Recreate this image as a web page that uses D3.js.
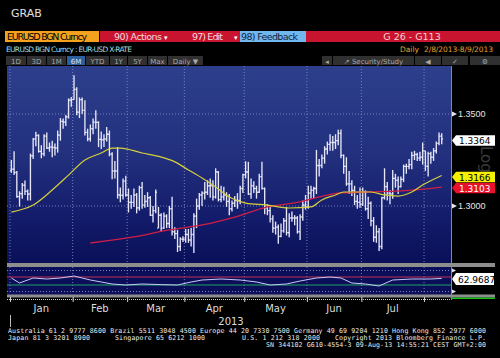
<!DOCTYPE html>
<meta charset="utf-8">
<script src="https://cdn.jsdelivr.net/npm/d3@7"></script>
<style>
	body{margin:0;background:#000;}
	svg{display:block;font-family:"DejaVu Sans",sans-serif;}
</style>
<div id="chart"></div>
<script>
// EUR-USD daily bars, trading days 1 Jan - 9 Aug 2013
var opens = [1.3193,1.3200,1.3182,1.3051,1.3067,1.3113,1.3080,1.3065,1.3273,1.3364,1.3383,1.3297,1.3284,1.3380,1.3315,1.3320,1.3318,1.3315,1.3385,1.3460,1.3455,1.3484,1.3575,
	1.3579,1.3634,1.3510,1.3578,1.3520,1.3400,1.3365,1.3420,1.3456,1.3455,1.3362,1.3360,1.3364,1.3390,1.3282,1.3190,1.3190,1.3060,1.3058,1.3135,
	1.3060,1.3020,1.3020,1.3060,1.2990,1.3100,1.3005,1.3025,1.3045,1.2950,1.2975,1.2880,1.2950,1.2880,1.2945,1.2905,1.2985,1.2860,1.2850,1.2780,1.2820,
	1.2820,1.2845,1.2815,1.2845,1.2945,1.3000,1.3060,1.3070,1.3075,1.3110,1.3110,1.3050,1.3185,1.3035,1.3050,1.3060,1.3025,1.2985,1.3015,1.3030,1.3030,1.3095,
	1.3170,1.3185,1.3065,1.3110,1.3095,1.3075,1.3160,1.3095,1.2990,1.2975,1.2930,1.2880,1.2885,1.2835,1.2865,1.2920,1.2855,1.2935,1.2935,1.2935,1.2860,1.2940,1.3005,
	1.2995,1.3070,1.3085,1.3095,1.3220,1.3220,1.3260,1.3310,1.3335,1.3345,1.3345,1.3355,1.3395,1.3275,1.3215,1.3120,1.3120,1.3085,1.3025,1.3020,
	1.3010,1.3075,1.2985,1.3015,1.2920,1.2830,1.2860,1.2780,1.3045,1.3105,1.3070,1.3065,1.3150,1.3140,1.3105,1.3145,1.3215,1.3215,1.3225,1.3275,1.3280,1.3260,1.3265,
	1.3300,1.3215,1.3285,1.3265,1.3300,1.3340,1.3380]
var highs = [1.3250,1.3297,1.3190,1.3080,1.3125,1.3138,1.3090,1.3285,1.3370,1.3403,1.3390,1.3330,1.3390,1.3400,1.3345,1.3355,1.3340,1.3410,1.3478,1.3475,1.3495,1.3585,1.3593,
	1.3711,1.3645,1.3590,1.3590,1.3575,1.3420,1.3443,1.3475,1.3520,1.3460,1.3405,1.3390,1.3430,1.3410,1.3292,1.3245,1.3320,1.3100,1.3150,1.3165,
	1.3095,1.3060,1.3095,1.3070,1.3110,1.3130,1.3060,1.3075,1.3055,1.3000,1.3090,1.2995,1.2960,1.2965,1.2955,1.3000,1.3050,1.2885,1.2870,1.2830,1.2835,
	1.2875,1.2875,1.2880,1.2960,1.3040,1.3070,1.3080,1.3130,1.3140,1.3150,1.3140,1.3205,1.3190,1.3110,1.3105,1.3075,1.3065,1.3030,1.3055,1.3070,1.3110,1.3175,
	1.3243,1.3240,1.3150,1.3135,1.3110,1.3175,1.3240,1.3100,1.3010,1.3000,1.2950,1.2915,1.2900,1.2905,1.2935,1.2995,1.2960,1.2970,1.2950,1.2945,1.2955,1.3030,1.3060,
	1.3110,1.3110,1.3105,1.3305,1.3255,1.3280,1.3325,1.3350,1.3390,1.3380,1.3390,1.3415,1.3416,1.3280,1.3265,1.3190,1.3140,1.3110,1.3060,1.3100,
	1.3100,1.3085,1.3050,1.3025,1.2940,1.2895,1.2880,1.3050,1.3205,1.3130,1.3085,1.3195,1.3175,1.3160,1.3160,1.3225,1.3230,1.3255,1.3295,1.3300,1.3290,1.3295,1.3345,
	1.3300,1.3295,1.3295,1.3315,1.3350,1.3400,1.3395]
var lows = [1.3180,1.3168,1.3045,1.2997,1.3040,1.3060,1.3030,1.3030,1.3255,1.3325,1.3290,1.3260,1.3270,1.3310,1.3295,1.3265,1.3275,1.3290,1.3355,1.3420,1.3435,1.3475,1.3540,
	1.3578,1.3493,1.3478,1.3500,1.3383,1.3352,1.3350,1.3390,1.3420,1.3320,1.3310,1.3320,1.3350,1.3270,1.3145,1.3150,1.3040,1.3020,1.3035,1.3050,
	1.2965,1.2985,1.2995,1.2960,1.2975,1.2985,1.2990,1.2995,1.2945,1.2910,1.2960,1.2880,1.2860,1.2875,1.2880,1.2880,1.2840,1.2820,1.2750,1.2755,1.2805,
	1.2800,1.2800,1.2780,1.2745,1.2880,1.2980,1.3000,1.3035,1.3060,1.3045,1.3030,1.3040,1.3025,1.3020,1.3030,1.2995,1.2950,1.2970,1.2995,1.2985,1.3010,1.3070,
	1.3150,1.3060,1.3040,1.3070,1.3040,1.3070,1.3090,1.2955,1.2950,1.2910,1.2855,1.2845,1.2795,1.2830,1.2855,1.2840,1.2830,1.2915,1.2895,1.2850,1.2815,1.2920,1.2980,
	1.2985,1.3040,1.3040,1.3065,1.3160,1.3205,1.3230,1.3280,1.3300,1.3300,1.3310,1.3330,1.3260,1.3175,1.3110,1.3065,1.3055,1.3005,1.2985,1.2990,
	1.3000,1.2975,1.2930,1.2890,1.2805,1.2800,1.2755,1.2765,1.3035,1.3030,1.3010,1.3040,1.3100,1.3065,1.3100,1.3130,1.3175,1.3200,1.3200,1.3250,1.3245,1.3245,1.3225,
	1.3190,1.3160,1.3230,1.3245,1.3285,1.3330,1.3335]
var closes = [1.3200,1.3182,1.3051,1.3067,1.3113,1.3080,1.3065,1.3273,1.3364,1.3383,1.3297,1.3284,1.3380,1.3315,1.3320,1.3318,1.3315,1.3385,1.3460,1.3455,1.3484,1.3575,1.3579,
	1.3634,1.3510,1.3578,1.3520,1.3400,1.3365,1.3420,1.3456,1.3455,1.3362,1.3360,1.3364,1.3390,1.3282,1.3190,1.3190,1.3060,1.3058,1.3135,1.3060,
	1.3020,1.3020,1.3060,1.2990,1.3100,1.3005,1.3025,1.3045,1.2950,1.2975,1.3075,1.2950,1.2880,1.2945,1.2905,1.2985,1.2860,1.2850,1.2780,1.2820,1.2820,
	1.2845,1.2815,1.2845,1.2945,1.3000,1.3060,1.3070,1.3075,1.3110,1.3110,1.3050,1.3185,1.3035,1.3050,1.3060,1.3025,1.2985,1.3015,1.3030,1.3030,1.3095,1.3170,
	1.3185,1.3065,1.3110,1.3095,1.3075,1.3160,1.3095,1.2990,1.2975,1.2930,1.2880,1.2885,1.2835,1.2865,1.2920,1.2855,1.2935,1.2935,1.2935,1.2860,1.2940,1.3005,1.2995,
	1.3070,1.3085,1.3095,1.3220,1.3220,1.3260,1.3310,1.3335,1.3345,1.3345,1.3355,1.3395,1.3275,1.3215,1.3120,1.3120,1.3085,1.3025,1.3020,1.3010,
	1.3075,1.2985,1.3015,1.2920,1.2830,1.2860,1.2780,1.3045,1.3105,1.3070,1.3065,1.3150,1.3140,1.3105,1.3145,1.3215,1.3215,1.3225,1.3275,1.3280,1.3260,1.3265,1.3300,
	1.3215,1.3285,1.3265,1.3300,1.3340,1.3380,1.3364]

// moving averages (trading day index -> value)
var maYellowDays = [0,8,15,21,27,33,37,40,48,55,60,65,70,75,80,86,94,102,110,114,119,122,127,132,137,142,147,151,158]
var maYellow = [1.2967,1.3005,1.3087,1.3168,1.3250,1.3288,1.3315,1.3315,1.3288,1.3266,1.3240,1.3196,1.3152,1.3103,1.3049,1.3016,1.3005,1.2989,1.2995,1.3033,1.3060,1.3076,1.3076,1.3076,1.3060,1.3054,1.3076,1.3114,1.3166]
var maRedDays = [29,45,58,70,82,94,106,113,121,131,143,158]
var maRed = [1.2799,1.2832,1.2870,1.2897,1.2940,1.2995,1.3022,1.3049,1.3071,1.3076,1.3082,1.3103]

// lower study panel
var rsiDays = [0,3,5,8,13,18,23,26,29,33,37,42,48,55,61,66,70,77,84,90,95,101,106,112,117,121,125,130,135,140,147,154,158]
var rsi = [65,40,50,65,60,65,75,65,55,45,35,30,35,32,30,45,55,60,55,45,30,35,50,65,70,65,40,35,25,55,60,60,62.9687]

var months = ["Jan","Feb","Mar","Apr","May","Jun","Jul","Aug"]
var priceTicks = [1.30, 1.35]
var tabs = ["1D","3D","1M","6M","YTD","1Y","5Y","Max","Daily \u25BC"]
var tabEdges = [6,27,47,67,86,110,128,148,168,204]

var width = 500
var height = 358
var plotLeft = 7, plotRight = 451, plotTop = 66, plotBottom = 263

var days = d3.timeDay.range(new Date(2013,0,1), new Date(2013,7,10)).filter(function(d){
	return d.getDay()!=0 && d.getDay()!=6
})
var monthStarts = []
days.forEach(function(d,i){
	if(i==0 || d.getMonth()!=days[i-1].getMonth()){ monthStarts.push(i) }
})

var x = d3.scaleLinear().domain([0,days.length]).range([10,443.1])
var y = d3.scaleLinear().domain([1.30,1.35]).range([206,114])
var yr = d3.scaleLinear().domain([30,70]).range([285,277])

var svg = d3.select("#chart").append("svg")
	.attr("width",width)
	.attr("height",height)

svg.append("rect").attr("width",width).attr("height",height).attr("fill","#000")

var defs = svg.append("defs")
var grad = defs.append("linearGradient").attr("id","bg").attr("x1",0).attr("x2",0).attr("y1",0).attr("y2",1)
grad.append("stop").attr("offset","0%").attr("stop-color","#2d3f8c")
grad.append("stop").attr("offset","45%").attr("stop-color","#22307e")
grad.append("stop").attr("offset","75%").attr("stop-color","#141d6c")
grad.append("stop").attr("offset","100%").attr("stop-color","#0a1058")
defs.append("clipPath").attr("id","plotclip").append("rect")
	.attr("x",plotLeft).attr("y",plotTop).attr("width",plotRight-plotLeft).attr("height",plotBottom-plotTop)

drawHeader()
drawPlot()
drawPanel()
drawFooter()

function drawHeader(){
	svg.append("text").attr("x",11).attr("y",17).attr("fill","#e0e0e0")
		.style("font-size","11px").text("GRAB")

	// command bar
	svg.append("rect").attr("x",5).attr("y",31).attr("width",94).attr("height",11).attr("fill","#f4a21e")
	svg.append("text").attr("x",7).attr("y",40).attr("fill","#000").style("font-size","9.5px")
		.attr("textLength",80).text("EURUSD BGN Curncy")
	svg.append("rect").attr("x",100).attr("y",31).attr("width",140).attr("height",11).attr("fill","#c8142f")
	svg.append("text").attr("x",114).attr("y",40).attr("fill","#f4dada").style("font-size","9.5px")
		.attr("textLength",48).text("90) Actions")
	svg.append("text").attr("x",164).attr("y",40).attr("fill","#fff").style("font-size","7px").text("\u25BE")
	svg.append("text").attr("x",192).attr("y",40).attr("fill","#f4dada").style("font-size","9.5px")
		.attr("textLength",31).text("97) Edit")
	svg.append("text").attr("x",234).attr("y",40).attr("fill","#fff").style("font-size","7px").text("\u25BE")
	svg.append("rect").attr("x",240).attr("y",31).attr("width",66).attr("height",11).attr("fill","#72b6ee")
	svg.append("text").attr("x",241).attr("y",40).attr("fill","#10243e").style("font-size","9.5px")
		.attr("textLength",57).text("98) Feedback")
	svg.append("rect").attr("x",306).attr("y",31).attr("width",194).attr("height",11).attr("fill","#c8142f")
	svg.append("text").attr("x",412).attr("y",40).attr("fill","#f4d0d0").style("font-size","9.5px")
		.attr("text-anchor","middle").text("G 26 - G113")

	svg.append("text").attr("x",6).attr("y",52).attr("fill","#9fdfe6").style("font-size","7.5px")
		.attr("textLength",126).text("EURUSD BGN Curncy : EUR-USD X-RATE")
	svg.append("text").attr("x",400).attr("y",52).attr("fill","#e2a230").style("font-size","7.5px").text("Daily")
	svg.append("text").attr("x",424).attr("y",52).attr("fill","#e2a230").style("font-size","7.5px")
		.attr("textLength",69).text("2/8/2013-8/9/2013")

	// range tabs
	for(var i=0;i<tabs.length;i++){
		var x0 = tabEdges[i], x1 = tabEdges[i+1]-1
		svg.append("rect").attr("x",x0).attr("y",56).attr("width",x1-x0).attr("height",9)
			.attr("fill", tabs[i]=="6M" ? "#2b5f9e" : "#303030")
		svg.append("text").attr("x",(x0+x1)/2).attr("y",63.5).attr("text-anchor","middle")
			.attr("fill", tabs[i]=="6M" ? "#d6e6f6" : "#a8a8a8").style("font-size","7px").text(tabs[i])
	}
	var rightTabs = [[322,332,"\u25C2"],[333,414,"\u2197 Security/Study"],[415,441,"\u25C0"],[442,468,"\u2713"],[470,500,"\u2699"]]
	rightTabs.forEach(function(t){
		svg.append("rect").attr("x",t[0]).attr("y",56).attr("width",t[1]-t[0]).attr("height",9).attr("fill","#303030")
		svg.append("text").attr("x",(t[0]+t[1])/2).attr("y",63.5).attr("text-anchor","middle")
			.attr("fill","#a8a8a8").style("font-size","7px").text(t[2])
	})
}

function drawPlot(){
	svg.append("rect").attr("x",plotLeft).attr("y",plotTop)
		.attr("width",plotRight-plotLeft).attr("height",plotBottom-plotTop)
		.attr("fill","url(#bg)")

	var g = svg.append("g").attr("clip-path","url(#plotclip)")

	g.selectAll(".vgrid").data(monthStarts).enter().append("line")
		.attr("x1",function(d){return x(d)}).attr("x2",function(d){return x(d)})
		.attr("y1",plotTop).attr("y2",plotBottom)
		.attr("stroke","#8c94cc").attr("stroke-width",0.8).attr("stroke-dasharray","1,2")
	g.selectAll(".hgrid").data(priceTicks).enter().append("line")
		.attr("x1",plotLeft).attr("x2",plotRight)
		.attr("y1",function(d){return y(d)}).attr("y2",function(d){return y(d)})
		.attr("stroke","#8c94cc").attr("stroke-width",0.8).attr("stroke-dasharray","1,2")

	// OHLC bars
	var bars = g.append("g").attr("stroke","#e6e6f8").attr("stroke-width",1.35)
	days.forEach(function(d,i){
		var cx = x(i+0.5)
		bars.append("line").attr("x1",cx).attr("x2",cx).attr("y1",y(highs[i])).attr("y2",y(lows[i]))
		bars.append("line").attr("x1",cx-1.3).attr("x2",cx).attr("y1",y(opens[i])).attr("y2",y(opens[i]))
		bars.append("line").attr("x1",cx).attr("x2",cx+1.3).attr("y1",y(closes[i])).attr("y2",y(closes[i]))
	})

	var maLine = d3.line()
		.x(function(d){return x(d[0]+0.5)})
		.y(function(d){return y(d[1])})
		.curve(d3.curveMonotoneX)
	g.append("path").datum(d3.zip(maRedDays,maRed)).attr("d",maLine)
		.attr("fill","none").attr("stroke","#d01e44").attr("stroke-width",1.3)
	g.append("path").datum(d3.zip(maYellowDays,maYellow)).attr("d",maLine)
		.attr("fill","none").attr("stroke","#d6cf3c").attr("stroke-width",1.2)

	svg.append("line").attr("x1",plotRight+0.5).attr("x2",plotRight+0.5).attr("y1",plotTop).attr("y2",300)
		.attr("stroke","#8a8a8a").attr("stroke-width",1)

	// faint scale button behind the labels
	svg.append("text").attr("transform","translate(481,146) rotate(90)")
		.attr("fill","#3a3a3a").style("font-size","15px").text("Log")

	var axis = d3.axisRight(y).tickValues(priceTicks).tickSize(0).tickPadding(0)
		.tickFormat(d3.format(".4f"))
	var ax = svg.append("g").attr("transform","translate(458,0)").call(axis)
	ax.select(".domain").remove()
	ax.selectAll("text").attr("fill","#e6e6e6").style("font-size","9px").attr("dx",0)
	priceTicks.forEach(function(v){
		svg.append("path").attr("d","M452,"+(y(v)-2.5)+"L457,"+y(v)+"L452,"+(y(v)+2.5)+"Z").attr("fill","#e6e6e6")
	})

	tag(d3.format(".4f")(closes[closes.length-1]), "#fff", "#000", 140.5)
	tag(d3.format(".4f")(maYellow[maYellow.length-1]), "#f4f000", "#000", 177)
	tag(d3.format(".4f")(maRed[maRed.length-1]), "#e8102a", "#fff", 188)
}

function tag(label, fill, color, cy){
	var h = 10.5
	svg.append("path")
		.attr("d","M452,"+cy+"L456,"+(cy-h/2)+"L495,"+(cy-h/2)+"L495,"+(cy+h/2)+"L456,"+(cy+h/2)+"Z")
		.attr("fill",fill)
	svg.append("text").attr("x",459).attr("y",cy+3.5).attr("fill",color)
		.style("font-size","9px").text(label)
}

function drawPanel(){
	svg.append("rect").attr("x",plotLeft).attr("y",263).attr("width",495-plotLeft).attr("height",4).attr("fill","#8e8e8e")
	svg.append("rect").attr("x",plotLeft).attr("y",267).attr("width",plotRight-plotLeft).attr("height",28).attr("fill","#0b0f5a")
	svg.append("rect").attr("x",plotLeft).attr("y",294.5).attr("width",495-plotLeft).attr("height",3).attr("fill","#8e8e8e")
	svg.append("rect").attr("x",plotRight+1).attr("y",297.5).attr("width",495-plotRight-1).attr("height",1.5).attr("fill","#1ec21e")

	var p = svg.append("g")
	p.selectAll(".pv").data(monthStarts).enter().append("line")
		.attr("x1",function(d){return x(d)}).attr("x2",function(d){return x(d)})
		.attr("y1",267).attr("y2",294)
		.attr("stroke","#8c94cc").attr("stroke-width",0.8).attr("stroke-dasharray","1,2")
	;[270.5,291.5].forEach(function(yy){
		p.append("line").attr("x1",plotLeft).attr("x2",plotRight).attr("y1",yy).attr("y2",yy)
			.attr("stroke","#9aa0d8").attr("stroke-width",0.8).attr("stroke-dasharray","1,2")
		svg.append("path").attr("d","M452,"+(yy-2)+"L456,"+yy+"L452,"+(yy+2)+"Z").attr("fill","#e6e6e6")
	})
	p.append("line").attr("x1",plotLeft).attr("x2",plotRight).attr("y1",yr(70)).attr("y2",yr(70))
		.attr("stroke","#c03052").attr("stroke-width",1)
	p.append("line").attr("x1",plotLeft).attr("x2",plotRight).attr("y1",yr(30)).attr("y2",yr(30))
		.attr("stroke","#1fa064").attr("stroke-width",1)

	var rsiLine = d3.line().x(function(d){return x(d[0]+0.5)}).y(function(d){return yr(d[1])})
	p.append("path").datum(d3.zip(rsiDays,rsi)).attr("d",rsiLine)
		.attr("fill","none").attr("stroke","#c6c8f4").attr("stroke-width",1)

	var cy = 279
	svg.append("path")
		.attr("d","M452,"+cy+"L456,"+(cy-6)+"L494,"+(cy-6)+"L494,"+(cy+6)+"L456,"+(cy+6)+"Z")
		.attr("fill","#fff")
	svg.append("text").attr("x",458).attr("y",cy+3.5).attr("fill","#000").style("font-size","9px")
		.text(d3.format(".4f")(rsi[rsi.length-1]))

	// time axis
	var xAxis = d3.axisBottom(x).tickValues(monthStarts).tickSize(3).tickFormat("")
	var xa = svg.append("g").attr("transform","translate(0,299)").call(xAxis)
	xa.select(".domain").attr("d","M"+plotLeft+",0.5H"+plotRight).attr("stroke","#cccccc").attr("stroke-dasharray","1,1")
	xa.selectAll(".tick line").attr("stroke","#cccccc").attr("y1",-2)

	var mids = []
	for(var i=0;i<monthStarts.length;i++){
		var end = i+1<monthStarts.length ? monthStarts[i+1] : days.length
		if(end-monthStarts[i] > 10){ mids.push([months[i], (x(monthStarts[i])+x(end))/2]) }
	}
	svg.selectAll(".mlab").data(mids).enter().append("text")
		.attr("x",function(d){return d[1]}).attr("y",312).attr("text-anchor","middle")
		.attr("fill","#dcdcdc").style("font-size","10px").text(function(d){return d[0]})
	svg.append("line").attr("x1",10.5).attr("x2",10.5).attr("y1",315).attr("y2",327).attr("stroke","#bbb")
	svg.append("text").attr("x",231).attr("y",325).attr("text-anchor","middle")
		.attr("fill","#dcdcdc").style("font-size","10px").text("2013")
}

function drawFooter(){
	var f = svg.append("g").attr("fill","#ececec").style("font-family","'DejaVu Sans Mono',monospace").style("font-size","6.6px")
	f.append("text").attr("x",8).attr("y",333).attr("textLength",478)
		.text("Australia 61 2 9777 8600 Brazil 5511 3048 4500 Europe 44 20 7330 7500 Germany 49 69 9204 1210 Hong Kong 852 2977 6000")
	f.append("text").attr("x",8).attr("y",340).attr("textLength",82).text("Japan 81 3 3201 8900")
	f.append("text").attr("x",115).attr("y",340).attr("textLength",90).text("Singapore 65 6212 1000")
	f.append("text").attr("x",242).attr("y",340).attr("textLength",78).text("U.S. 1 212 318 2000")
	f.append("text").attr("x",335).attr("y",340).attr("textLength",151).text("Copyright 2013 Bloomberg Finance L.P.")
	f.append("text").attr("x",266).attr("y",347).attr("textLength",220).text("SN 344102 G610-4554-3 09-Aug-13 14:55:21 CEST GMT+2:00")
}
</script>
